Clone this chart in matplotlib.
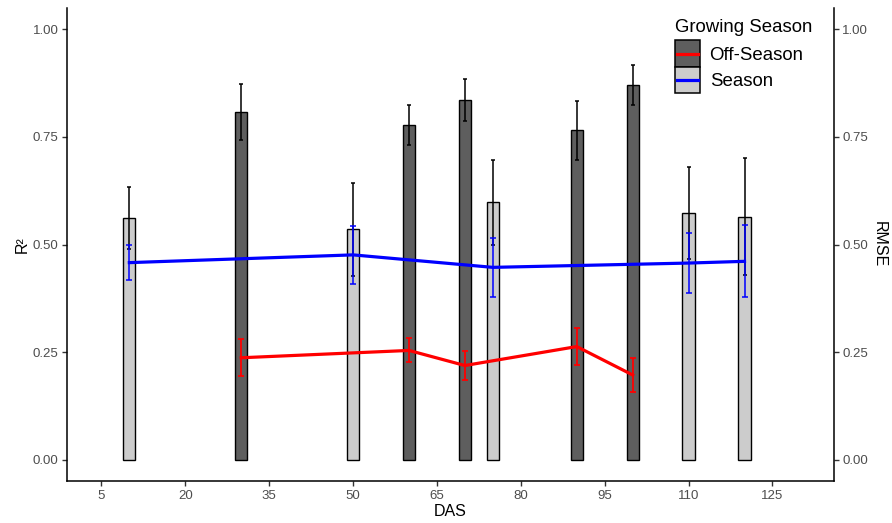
import matplotlib
matplotlib.use("Agg")
import matplotlib.pyplot as plt
from matplotlib.patches import Rectangle
from matplotlib.lines import Line2D
from matplotlib.legend_handler import HandlerBase

plt.rcParams['font.family'] = ['Liberation Sans', 'DejaVu Sans']

# ---- data ----
off_das = [30, 60, 70, 90, 100]
off_r2 = [0.808, 0.778, 0.836, 0.765, 0.870]
off_r2_err = [0.065, 0.047, 0.048, 0.069, 0.046]
off_rmse = [0.237, 0.254, 0.219, 0.263, 0.197]
off_rmse_err = [0.043, 0.028, 0.034, 0.043, 0.039]

sea_das = [10, 50, 75, 110, 120]
sea_r2 = [0.561, 0.535, 0.598, 0.574, 0.565]
sea_r2_err = [0.072, 0.109, 0.098, 0.107, 0.135]
sea_rmse = [0.458, 0.476, 0.447, 0.457, 0.461]
sea_rmse_err = [0.040, 0.068, 0.069, 0.069, 0.084]

x_ticks = [5, 20, 35, 50, 65, 80, 95, 110, 125]
y_ticks = [0.00, 0.25, 0.50, 0.75, 1.00]
y_ticklabels = ["0.00", "0.25", "0.50", "0.75", "1.00"]
season_labels = ['Off-Season', 'Season']

dark = '#5E5E5E'
light = '#CCCCCC'
tick_col = '#4D4D4D'


class KeyStyle:
    def __init__(self, fc, lc):
        self.fc = fc
        self.lc = lc


class KeyHandler(HandlerBase):
    def create_artists(self, legend, orig_handle, xdescent, ydescent, width, height,
                       fontsize, trans):
        r = Rectangle((-xdescent, -ydescent), width, height, facecolor=orig_handle.fc,
                      edgecolor='black', linewidth=1.1, transform=trans)
        yc = -ydescent + height / 2.0
        ln = Line2D([-xdescent + 1.5, -xdescent + width - 1.5], [yc, yc],
                    color=orig_handle.lc, linewidth=2.3, transform=trans)
        return [r, ln]


W, H = 892, 523
fig = plt.figure(figsize=(W / 100, H / 100), dpi=100)
ax = fig.add_axes([66.7 / W, 1 - 481.3 / H, (834 - 66.7) / W, (481.3 - 7.8) / H])

bw = 2.2
ax.bar(off_das, off_r2, width=bw, color=dark, edgecolor='black', linewidth=1.0, zorder=2)
ax.bar(sea_das, sea_r2, width=bw, color=light, edgecolor='black', linewidth=1.0, zorder=2)
ax.errorbar(off_das, off_r2, yerr=off_r2_err, fmt='none', ecolor='black',
            elinewidth=1.1, capsize=1.6, capthick=1.1, zorder=3)
ax.errorbar(sea_das, sea_r2, yerr=sea_r2_err, fmt='none', ecolor='black',
            elinewidth=1.1, capsize=1.6, capthick=1.1, zorder=3)

ax.plot(off_das, off_rmse, color='red', lw=2.3, zorder=4)
ax.errorbar(off_das, off_rmse, yerr=off_rmse_err, fmt='none', ecolor='red',
            elinewidth=1.3, capsize=2.2, capthick=1.3, zorder=4)
ax.plot(sea_das, sea_rmse, color='blue', lw=2.3, zorder=4)
ax.errorbar(sea_das, sea_rmse, yerr=sea_rmse_err, fmt='none', ecolor='blue',
            elinewidth=1.1, capsize=1.9, capthick=1.1, zorder=4)

ax.set_xlim(-1.2, 136.0)
ax.set_ylim(-0.05, 1.05)
ax.set_xticks(x_ticks)
ax.set_xticklabels([str(v) for v in x_ticks])
ax.set_yticks(y_ticks)
ax.set_yticklabels(y_ticklabels)
ax.tick_params(axis='both', colors='#333333', labelcolor=tick_col, labelsize=9.5,
               length=3.5, width=1.0, pad=2.5)
for s in ['top', 'right']:
    ax.spines[s].set_visible(False)
for s in ['left', 'bottom']:
    ax.spines[s].set_linewidth(1.1)
ax.set_xlabel('DAS', fontsize=11.5, labelpad=1.5)
ax.set_ylabel('R²', fontsize=11.5, labelpad=2)

ax2 = ax.twinx()
ax2.set_ylim(ax.get_ylim())
ax2.set_yticks(y_ticks)
ax2.set_yticklabels(y_ticklabels)
ax2.tick_params(axis='y', colors='#333333', labelcolor=tick_col, labelsize=9.5,
                length=3.5, width=1.0, pad=2.5)
for s in ['top', 'left', 'bottom']:
    ax2.spines[s].set_visible(False)
ax2.spines['right'].set_linewidth(1.1)
ax2.set_ylabel('RMSE', fontsize=11.5, rotation=270, labelpad=13)

handles = [KeyStyle(dark, 'red'), KeyStyle(light, 'blue')]
leg = fig.legend(handles, season_labels, handler_map={KeyStyle: KeyHandler()},
                 title='Growing Season', loc='upper left',
                 bbox_to_anchor=(674.7 / W, 1 - 18.5 / H), bbox_transform=fig.transFigure,
                 frameon=False, fontsize=13.4, title_fontsize=13.4, handlelength=1.376,
                 handleheight=1.81, labelspacing=0.0, handletextpad=0.5,
                 borderpad=0.0, borderaxespad=0.0)
leg._legend_box.align = 'left'
leg._legend_box.sep = 3.6

fig.savefig('out.png', dpi=100)
